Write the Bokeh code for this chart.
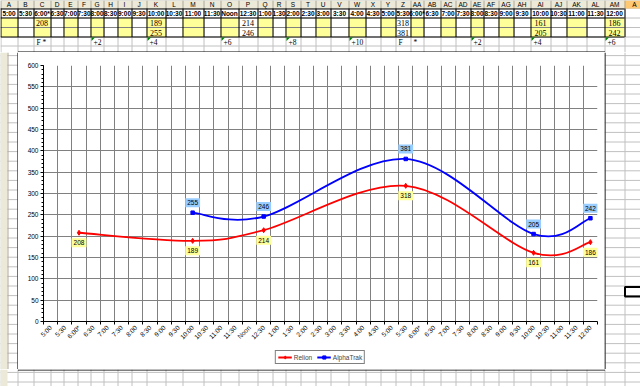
import math
from bokeh.plotting import figure
from bokeh.models import (Range1d, FixedTicker, SingleIntervalTicker, Legend, LegendItem,
                          ColumnDataSource, LabelSet, Label)
from bokeh.layouts import column, row
from bokeh.embed import file_html
from bokeh.resources import INLINE
from bokeh.core.properties import value

# ---------------- data ----------------
categories = ["5:00", "5:30", "6:00*", "6:30", "7:00", "7:30", "8:00", "8:30", "9:00", "9:30",
              "10:00", "10:30", "11:00", "11:30", "Noon", "12:30", "1:00", "1:30", "2:00", "2:30",
              "3:00", "3:30", "4:00", "4:30", "5:00", "5:30", "6:00*", "6:30", "7:00", "7:30",
              "8:00", "8:30", "9:00", "9:30", "10:00", "10:30", "11:00", "11:30", "12:00"]
col_letters = ["A", "B", "C", "D", "E", "F", "G", "H", "I", "J", "K", "L", "M", "N", "O", "P",
               "Q", "R", "S", "T", "U", "V", "W", "X", "Y", "Z", "AA", "AB", "AC", "AD", "AE",
               "AF", "AG", "AH", "AI", "AJ", "AK", "AL", "AM", "A"]
relion_idx = [2, 10, 15, 25, 34, 38]
relion_vals = [208, 189, 214, 318, 161, 186]
alpha_idx = [10, 15, 25, 34, 38]
alpha_vals = [255, 246, 381, 205, 242]
note_idx = [2, 6, 10, 14, 18, 22, 25, 26, 30, 34, 38]
note_text = ["F *", "+2", "+4", "+6", "+8", "+10", "F", "*", "+2", "+4", "+6"]

# ---------------- sheet layout constants ----------------
col_widths = [17, 16, 17, 13, 14, 13, 13, 14, 14, 15, 19, 17, 21, 17, 18, 19, 15, 13, 15, 15,
              15, 18, 17, 15, 15, 15, 13, 17, 15, 15, 13, 15, 15, 17, 20, 16, 20, 18, 20, 20]
col_edges = [0]
for w in col_widths:
    col_edges.append(col_edges[-1] + w)
row_edges = [0, 8, 17.5, 27, 36.5, 45.5] + [45.5 + 9.6 * k for k in range(1, 36)]
GRID = "#c0c0c0"
FONT = "Liberation Sans"
SERIF = "Liberation Serif"
YELLOW = "#FFFF99"
BLUE_BG = "#99CCFF"
HEAD = "#ECE9D8"
W = 640


def sheet(x0, x1, y0, y1):
    f = figure(width=x1 - x0, height=int(y1 - y0), x_range=Range1d(x0, x1), y_range=Range1d(y1, y0),
               x_axis_type=None, y_axis_type=None, toolbar_location=None, output_backend="svg",
               min_border=0)
    f.outline_line_color = None
    f.background_fill_color = "white"
    f.border_fill_color = "white"
    vx = [e + 0.5 for e in col_edges if x0 <= e <= x1]
    f.segment(x0=vx, y0=[y0] * len(vx), x1=vx, y1=[y1] * len(vx), line_color=GRID, line_width=1)
    hy = [r for r in row_edges if y0 <= r <= y1]
    f.segment(x0=[x0] * len(hy), y0=hy, x1=[x1] * len(hy), y1=hy, line_color=GRID, line_width=1)
    return f


# ---------------- top table ----------------
top = sheet(0, W, 0, 52)
n = len(categories)
lefts = col_edges[:-1]
rights = col_edges[1:]
centers = [(a + b) / 2 for a, b in zip(lefts, rights)]
top.quad(left=[0], right=[W], top=[0], bottom=[8], fill_color=HEAD, line_color=None)
top.quad(left=[lefts[-1]], right=[rights[-1]], top=[0], bottom=[8], fill_color="#FFC873",
         line_color=None)
hx = [e + 0.5 for e in col_edges]
top.segment(x0=hx, y0=[0] * len(hx), x1=hx, y1=[8] * len(hx), line_color="#aca899", line_width=1)
top.text(x=centers, y=[4.2] * len(centers), text=col_letters, text_font=value(FONT),
         text_font_size="6.5px", text_align="center", text_baseline="middle", text_color="black")
ev = [i for i in range(n) if i % 2 == 0]
top.quad(left=[lefts[i] for i in ev], right=[rights[i] for i in ev],
         top=[17.5] * len(ev), bottom=[36.5] * len(ev), fill_color=YELLOW, line_color=None)
top.segment(x0=[0, 0, 0], y0=[8.5, 17.5, 36.5], x1=[col_edges[n]] * 3, y1=[8.5, 17.5, 36.5],
            line_color="black", line_width=1)
top.segment(x0=[0], y0=[27], x1=[col_edges[n]], y1=[27], line_color="#808080", line_width=1)
ve = [e + 0.5 for e in col_edges[:n + 1]]
top.segment(x0=ve, y0=[8] * len(ve), x1=ve, y1=[36.5] * len(ve), line_color="black", line_width=1)
top.text(x=centers[:n], y=[13] * n, text=categories, text_font=value(FONT), text_font_style="bold",
         text_font_size="6.5px", text_align="center", text_baseline="middle", text_color="black")
top.text(x=[centers[i] for i in relion_idx], y=[22.5] * len(relion_idx),
         text=[str(v) for v in relion_vals], text_font=value(SERIF), text_font_size="8px",
         text_align="center", text_baseline="middle", text_color="black")
top.text(x=[centers[i] for i in alpha_idx], y=[32] * len(alpha_idx),
         text=[str(v) for v in alpha_vals], text_font=value(SERIF), text_font_size="8px",
         text_align="center", text_baseline="middle", text_color="black")
top.text(x=[lefts[i] + 3 for i in note_idx], y=[41.5] * len(note_idx), text=note_text,
         text_font=value(SERIF), text_font_size="7.5px", text_align="left",
         text_baseline="middle", text_color="black")
tri = [i for i, t in zip(note_idx, note_text) if t.startswith("+")]
top.patches(xs=[[lefts[i] + 1, lefts[i] + 4.5, lefts[i] + 1] for i in tri],
            ys=[[37, 37, 40.5] for _ in tri], fill_color="#008000", line_color=None)
top.segment(x0=[17.5], y0=[51.5], x1=[604.5], y1=[51.5], line_color="black", line_width=1)

# ---------------- side / bottom sheet strips ----------------
left = sheet(0, 18, 52, 369)
left.quad(left=[0], right=[7], top=[52], bottom=[369], fill_color=HEAD, line_color=None)
left.segment(x0=[7.5], y0=[52], x1=[7.5], y1=[369], line_color="#aca899", line_width=1)
left.segment(x0=[17.5], y0=[52], x1=[17.5], y1=[369], line_color="black", line_width=1)
right = sheet(604, W, 52, 369)
right.segment(x0=[604.5], y0=[52], x1=[604.5], y1=[369], line_color="black", line_width=1)
right.quad(left=[624.5], right=[W + 2], top=[row_edges[30] + 1], bottom=[row_edges[31] + 1],
           fill_color=None, line_color="black", line_width=2)
bottom = sheet(0, W, 369, 386)
bottom.quad(left=[0], right=[7], top=[369], bottom=[386], fill_color=HEAD, line_color=None)
bottom.segment(x0=[17.5], y0=[369.5], x1=[604.5], y1=[369.5], line_color="black", line_width=1)

# ---------------- chart ----------------
p = figure(width=586, height=293, x_range=Range1d(0, n), y_range=Range1d(0, 600),
           toolbar_location=None, output_backend="svg",
           min_border_left=25, min_border_right=7, min_border_top=13, min_border_bottom=23)
p.background_fill_color = "white"
p.border_fill_color = "white"
p.outline_line_color = None

p.xaxis.ticker = FixedTicker(ticks=[i + 0.5 for i in range(n)], minor_ticks=list(range(n + 1)))
p.xaxis.major_label_overrides = {i + 0.5: c for i, c in enumerate(categories)}
p.xaxis.major_label_orientation = math.pi / 4
p.xaxis.major_tick_out = 0
p.xaxis.major_tick_in = 0
p.xaxis.minor_tick_out = 3
p.xaxis.minor_tick_in = 0
p.xaxis.major_label_standoff = 2
p.xgrid.ticker = FixedTicker(ticks=list(range(n + 1)))

p.yaxis.ticker = SingleIntervalTicker(interval=50, num_minor_ticks=5)
p.yaxis.major_tick_out = 3
p.yaxis.major_tick_in = 0
p.yaxis.minor_tick_out = 2
p.yaxis.minor_tick_in = 0
p.yaxis.major_label_standoff = 2
for ax in (p.xaxis, p.yaxis):
    ax.major_label_text_font = FONT
    ax.major_label_text_font_size = "6.5px"
    ax.major_label_text_color = "black"
    ax.axis_line_color = "black"
    ax.major_tick_line_color = "black"
    ax.minor_tick_line_color = "black"
p.grid.grid_line_color = "#808080"
p.grid.grid_line_width = 1


def smooth(xs, ys):
    m = len(xs)
    d = {k: [] for k in ("x0", "y0", "x1", "y1", "cx0", "cy0", "cx1", "cy1")}
    for i in range(m - 1):
        a = max(i - 1, 0)
        b = min(i + 2, m - 1)
        d["x0"].append(xs[i]); d["y0"].append(ys[i])
        d["x1"].append(xs[i + 1]); d["y1"].append(ys[i + 1])
        d["cx0"].append(xs[i] + (xs[i + 1] - xs[a]) / 6)
        d["cy0"].append(ys[i] + (ys[i + 1] - ys[a]) / 6)
        d["cx1"].append(xs[i + 1] - (xs[b] - xs[i]) / 6)
        d["cy1"].append(ys[i + 1] - (ys[b] - ys[i]) / 6)
    return ColumnDataSource(d)


# legend strip (inside the chart box, under the axis); its own ranges keep the
# series renderers out of view so only the legend is shown
legfig = figure(width=586, height=24, x_range=Range1d(0, 1), y_range=Range1d(0, 1),
                x_axis_type=None, y_axis_type=None, toolbar_location=None,
                output_backend="svg", min_border=0)
legfig.outline_line_color = None
legfig.background_fill_color = "white"
legfig.border_fill_color = "white"

has_pad = "padding" in Label.properties()
items = []
for name, idx, vals, color, marker, msize, bg, off in (
        ("Relion", relion_idx, relion_vals, "#FF0000", "diamond", 5, YELLOW, -10),
        ("AlphaTrak", alpha_idx, alpha_vals, "#0000FF", "square", 3.5, BLUE_BG, 10)):
    xs = [i + 0.5 for i in idx]
    p.bezier(x0="x0", y0="y0", x1="x1", y1="y1", cx0="cx0", cy0="cy0", cx1="cx1", cy1="cy1",
             source=smooth(xs, vals), line_color=color, line_width=1.8)
    p.scatter(xs, vals, marker=marker, size=msize, color=color)
    if has_pad:
        for x, v in zip(xs, vals):
            p.add_layout(Label(x=x, y=v, text=str(v), y_offset=off, text_align="center",
                               text_baseline="middle", text_font=FONT, text_font_size="6.5px",
                               text_color="black", background_fill_color=bg, padding=2))
    else:
        src = ColumnDataSource(dict(x=xs, y=vals, t=[str(v) for v in vals]))
        p.add_layout(LabelSet(x="x", y="y", text="t", source=src, y_offset=off,
                              text_align="center", text_baseline="middle",
                              text_font=value(FONT), text_font_size="6.5px",
                              text_color="black", background_fill_color=bg))
    ln = legfig.line(x=xs, y=vals, line_color=color, line_width=1.8)
    mk = legfig.scatter(x=xs, y=vals, marker=marker, size=msize, color=color)
    items.append(LegendItem(label=name, renderers=[ln, mk]))

legend = Legend(items=items, orientation="horizontal", location="center",
                label_text_font=FONT, label_text_font_size="6.5px",
                glyph_width=14, glyph_height=8, label_height=8, label_standoff=2,
                spacing=3, padding=2, margin=0,
                border_line_color="black", border_line_width=1,
                background_fill_color="white", background_fill_alpha=1)
legfig.add_layout(legend, "center")

layout = column(top, row(column(left), column(p, legfig), column(right)), bottom)
open("out.html", "w").write(file_html(layout, INLINE))
